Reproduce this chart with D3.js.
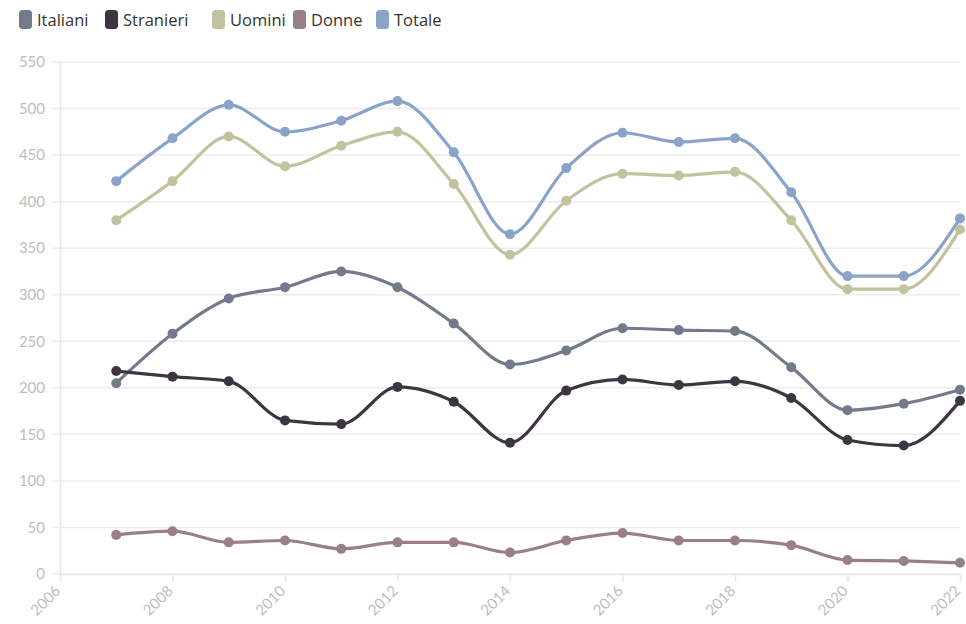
<!DOCTYPE html>
<html><head><meta charset="utf-8">
<script src="https://cdn.jsdelivr.net/npm/d3@7"></script>
<style>body{margin:0;background:#fff}svg{display:block}</style>
</head><body>
<script>
const years = [2007,2008,2009,2010,2011,2012,2013,2014,2015,2016,2017,2018,2019,2020,2021,2022];
const italiani  = [205,258,296,308,325,308,269,225,240,264,262,261,222,176,183,198];
const stranieri = [218,212,207,165,161,201,185,141,197,209,203,207,189,144,138,186];
const uomini    = [380,422,470,438,460,475,419,343,401,430,428,432,380,306,306,370];
const donne     = [42,46,34,36,27,34,34,23,36,44,36,36,31,15,14,12];
const totale    = [422,468,504,475,487,508,453,365,436,474,464,468,410,320,320,382];
const seriesNames = ["Italiani","Stranieri","Uomini","Donne","Totale"];
const seriesColors = ["#737a8c","#3d3540","#c2c29f","#9b7f87","#8aa3c9"];
const yTicks = [0,50,100,150,200,250,300,350,400,450,500,550];
const xTicks = [2006,2008,2010,2012,2014,2016,2018,2020,2022];

const data = [italiani, stranieri, uomini, donne, totale];
const W = 966, H = 624;
const svg = d3.select("body").append("svg").attr("width", W).attr("height", H);
const font = "Lato, 'Open Sans', sans-serif";

const x = d3.scaleLinear().domain([2006, 2022]).range([60, 960]);
const y = d3.scaleLinear().domain([0, 550]).range([574, 62]);

// grid
svg.append("g").selectAll("line").data(yTicks).join("line")
  .attr("x1", 52).attr("x2", 960)
  .attr("y1", d => y(d)).attr("y2", d => y(d))
  .attr("stroke", "#ececec").attr("stroke-width", 1.5);

// y axis
const yAxis = svg.append("g").attr("transform", "translate(60,0)")
  .call(d3.axisLeft(y).tickValues(yTicks).tickSize(0).tickPadding(15));
yAxis.select(".domain").attr("stroke", "#e6e6e6").attr("stroke-width", 1.5);
yAxis.selectAll("text").attr("fill", "#bdbdbd").attr("font-size", 15).attr("font-family", font);

// x axis
const xAxis = svg.append("g").attr("transform", `translate(0,${y(0)})`)
  .call(d3.axisBottom(x).tickValues(xTicks).tickFormat(d3.format("d")).tickSize(8).tickSizeOuter(0));
xAxis.select(".domain").attr("stroke", "#e6e6e6").attr("stroke-width", 1.5);
xAxis.selectAll(".tick line").attr("stroke", "#e6e6e6").attr("stroke-width", 1.5);
xAxis.selectAll("text").attr("fill", "#bdbdbd").attr("font-size", 15).attr("font-family", font)
  .attr("text-anchor", "end").attr("transform", "translate(-7,10) rotate(-45)").attr("dy", "0.35em").attr("y", 6).attr("x", 0);

// lines
const line = d3.line().x((d, i) => x(years[i])).y(d => y(d)).curve(d3.curveMonotoneX);
const order = [4, 2, 0, 1, 3];
order.forEach(k => {
  const g = svg.append("g");
  g.append("path").datum(data[k]).attr("d", line)
    .attr("fill", "none").attr("stroke", seriesColors[k]).attr("stroke-width", 3.2);
  g.selectAll("circle").data(data[k]).join("circle")
    .attr("cx", (d, i) => x(years[i])).attr("cy", d => y(d)).attr("r", 5)
    .attr("fill", seriesColors[k]);
});

// legend
const legX = [19, 105, 212, 293, 376];
const leg = svg.append("g");
seriesNames.forEach((n, i) => {
  leg.append("rect").attr("x", legX[i]).attr("y", 10).attr("width", 13).attr("height", 19)
    .attr("rx", 3.5).attr("fill", seriesColors[i]);
  leg.append("text").attr("x", legX[i] + 18).attr("y", 26).text(n)
    .attr("font-family", "'Open Sans', sans-serif").attr("font-size", 16.5).attr("fill", "#333");
});
</script>
</body></html>
